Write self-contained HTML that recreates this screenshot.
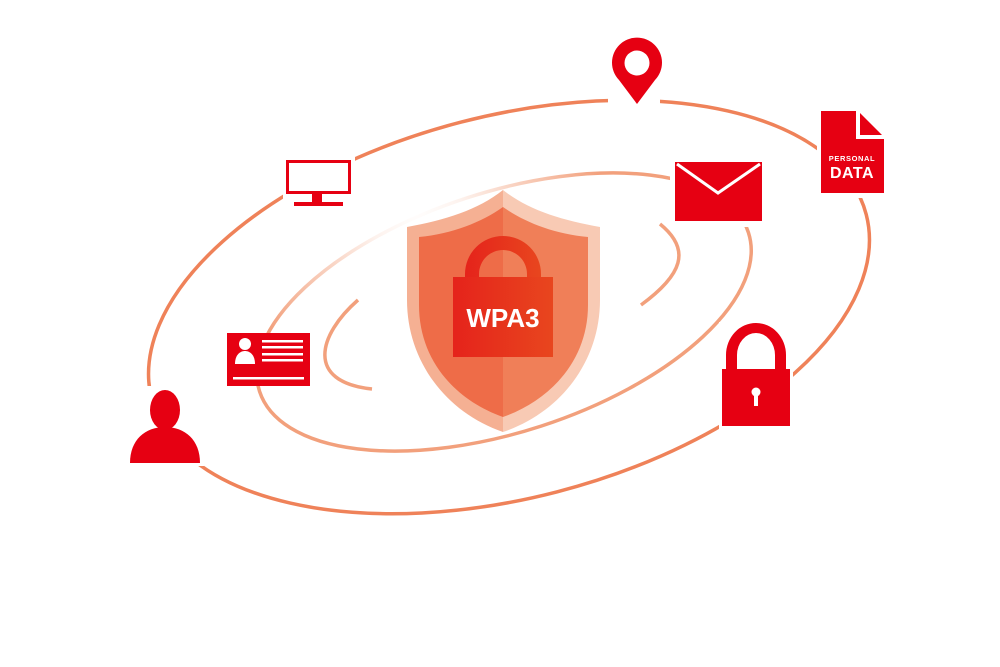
<!DOCTYPE html>
<html><head><meta charset="utf-8"><style>
html,body{margin:0;padding:0;background:#fff;}
svg{display:block}
</style></head><body>
<svg width="1000" height="667" viewBox="0 0 1000 667" xmlns="http://www.w3.org/2000/svg">
<defs>
<radialGradient id="fade" cx="450" cy="185" r="190" gradientUnits="userSpaceOnUse">
<stop offset="0" stop-color="#000"/><stop offset="0.25" stop-color="#222"/><stop offset="1" stop-color="#fff"/>
</radialGradient>
<mask id="m1" maskUnits="userSpaceOnUse" x="0" y="0" width="1000" height="667">
<rect width="1000" height="667" fill="url(#fade)"/>
</mask>
<linearGradient id="lk" x1="0" x2="1"><stop offset="0" stop-color="#e5231b"/><stop offset="1" stop-color="#e8461e"/></linearGradient>
</defs>
<ellipse cx="509" cy="307" rx="369" ry="191" transform="rotate(-14.5 509 307)" fill="none" stroke="#ef8259" stroke-width="3.5"/>
<ellipse cx="504" cy="312" rx="257" ry="120" transform="rotate(-18 504 312)" fill="none" stroke="#f2a07c" stroke-width="3.5" mask="url(#m1)"/>
<path d="M358,300 C318,335 305,382 372,389" fill="none" stroke="#f2a07c" stroke-width="3.5"/>
<path d="M660,224 C692,250 682,275 641,305" fill="none" stroke="#f2a07c" stroke-width="3.5"/>
<g fill="#fff">
<rect x="608" y="36" width="52" height="74"/>
<rect x="283" y="156" width="72" height="57"/>
<rect x="817" y="106" width="71" height="92"/>
<rect x="670" y="156" width="98" height="71"/>
<rect x="719" y="322" width="74" height="108"/>
<rect x="126" y="386" width="78" height="80"/>
</g>
<path d="M503,190 C478,210 445,220 407,227 L407,300 C407,360 445,412 503,432 Z" fill="#f5b093"/>
<path d="M503,190 C528,210 561,220 600,227 L600,300 C600,360 562,412 503,432 Z" fill="#f8cab4"/>
<path d="M503,207 C482,222 452,234 419,237 L419,305 C419,360 455,400 503,417 Z" fill="#ee6c48"/>
<path d="M503,207 C524,222 554,234 588,237 L588,305 C588,360 551,400 503,417 Z" fill="#f07f58"/>
<path d="M465,277 L465,274 A38,38 0 0 1 541,274 L541,277 L527,277 L527,274 A24,24 0 0 0 479,274 L479,277 Z" fill="url(#lk)"/>
<rect x="453" y="277" width="100" height="80" fill="url(#lk)"/>
<text x="503" y="327" text-anchor="middle" font-family="Liberation Sans, sans-serif" font-weight="bold" font-size="26" fill="#fff">WPA3</text>
<path d="M637,104 L619,80 A25,25 0 1 1 655,80 Z" fill="#e60012"/>
<circle cx="637" cy="63" r="12.5" fill="#fff"/>
<rect x="287.5" y="161.5" width="62" height="31" fill="none" stroke="#e60012" stroke-width="3"/>
<rect x="312" y="194" width="10" height="8" fill="#e60012"/>
<rect x="294" y="202" width="49" height="4" fill="#e60012"/>
<path d="M821,111 L856,111 L856,139 L884,139 L884,193 L821,193 Z" fill="#e60012"/>
<path d="M860,113 L882,135 L860,135 Z" fill="#e60012"/>
<text x="852" y="161" text-anchor="middle" font-family="Liberation Sans, sans-serif" font-weight="bold" font-size="7.5" fill="#fff" letter-spacing="0.6">PERSONAL</text>
<text x="852" y="178" text-anchor="middle" font-family="Liberation Sans, sans-serif" font-weight="bold" font-size="16" fill="#fff" letter-spacing="0.5">DATA</text>
<rect x="675" y="162" width="87" height="59" fill="#e60012"/>
<path d="M677,164 L718,193 L760,164" fill="none" stroke="#fff" stroke-width="3"/>
<path d="M726,370 L726,355 A30,32 0 0 1 786,355 L786,370 L775,370 L775,355 A19,22 0 0 0 737,355 L737,370 Z" fill="#e60012"/>
<rect x="722" y="369" width="68" height="57" fill="#e60012"/>
<circle cx="756" cy="392" r="4.5" fill="#fff"/>
<rect x="754" y="393" width="4" height="13" fill="#fff"/>
<ellipse cx="165" cy="410" rx="15" ry="20" fill="#e60012"/>
<path d="M130,463 C130,440 145,427 165,427 C185,427 200,440 200,463 Z" fill="#e60012"/>
<rect x="227" y="333" width="83" height="53" fill="#e60012"/>
<circle cx="245" cy="344" r="6" fill="#fff"/>
<path d="M235,364 C235,355 240,351 245,351 C250,351 255,355 255,364 Z" fill="#fff"/>
<g fill="#fff"><rect x="262" y="340" width="41" height="2.5"/><rect x="262" y="346" width="41" height="2.5"/><rect x="262" y="353" width="41" height="2.5"/><rect x="262" y="359" width="41" height="2.5"/><rect x="233" y="377" width="71" height="2.5"/></g>
</svg>
</body></html>
